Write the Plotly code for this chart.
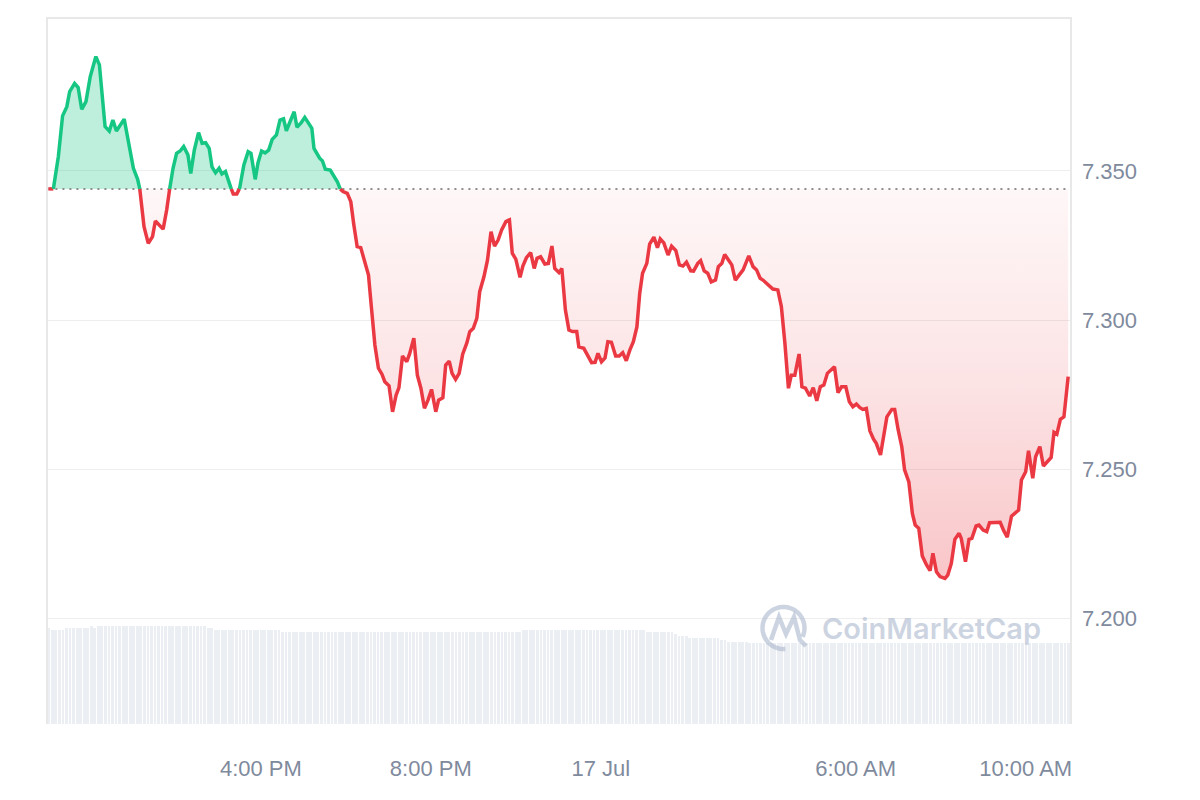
import math
import pandas as pd
import plotly.graph_objects as go

# ---------------- data ----------------
START = pd.Timestamp("2024-07-16 10:58")

# minutes after START for each price reading
minutes = [
    2, 9, 16, 22, 28, 32, 39, 44, 49, 55,
    61, 69, 74, 82, 88, 93, 98, 109, 115, 122,
    128, 131, 137, 143, 149, 153, 160, 164, 169, 174,
    178, 183, 188, 193, 199, 203, 208, 214, 219, 224,
    229, 233, 238, 243, 247, 252, 258, 263, 268, 272,
    278, 284, 288, 294, 298, 303, 308, 313, 318, 324,
    329, 334, 338, 344, 349, 353, 359, 364, 369, 374,
    377, 381, 385, 389, 393, 400, 404, 410, 414, 418,
    424, 429, 433, 438, 443, 449, 454, 458, 463, 468,
    473, 477, 483, 488, 493, 497, 502, 508, 512, 518,
    523, 528, 533, 538, 543, 549, 553, 559, 563, 568,
    572, 577, 582, 587, 593, 597, 602, 607, 611, 617,
    622, 627, 632, 637, 642, 648, 653, 657, 662, 668,
    672, 677, 683, 688, 692, 697, 703, 708, 713, 717,
    723, 727, 732, 737, 742, 748, 751, 758, 763, 769,
    774, 778, 783, 788, 792, 797, 803, 808, 813, 818,
    823, 828, 833, 837, 841, 847, 851, 857, 862, 866,
    871, 877, 882, 888, 893, 898, 903, 909, 913, 919,
    923, 928, 933, 938, 944, 948, 953, 957, 963, 967,
    972, 977, 983, 991, 997, 1002, 1007, 1011, 1018, 1025,
    1032, 1037, 1042, 1047, 1051, 1056, 1062, 1066, 1071, 1077,
    1082, 1087, 1092, 1097, 1102, 1108, 1112, 1117, 1122, 1128,
    1133, 1138, 1143, 1148, 1152, 1157, 1162, 1167, 1171, 1177,
    1182, 1186, 1193, 1197, 1202, 1207, 1211, 1217, 1222, 1226,
    1231, 1236, 1242, 1247, 1251, 1256, 1261, 1268, 1272, 1277,
    1282, 1288, 1291, 1297, 1302, 1306, 1312, 1316, 1322, 1327,
    1331, 1336, 1346, 1351, 1356, 1362, 1367, 1372, 1376, 1382,
    1386, 1392, 1396, 1402, 1407, 1412, 1418, 1422, 1426, 1431,
    1436, 1442,
]

prices = [
    7.3440, 7.3440, 7.3548, 7.3685, 7.3716, 7.3766, 7.3794, 7.3780, 7.3707, 7.3733,
    7.3816, 7.3884, 7.3856, 7.3649, 7.3634, 7.3671, 7.3634, 7.3674, 7.3593, 7.3509,
    7.3472, 7.3440, 7.3313, 7.3257, 7.3280, 7.3332, 7.3313, 7.3305, 7.3369, 7.3453,
    7.3509, 7.3559, 7.3567, 7.3582, 7.3554, 7.3492, 7.3570, 7.3629, 7.3593, 7.3595,
    7.3576, 7.3514, 7.3494, 7.3509, 7.3490, 7.3498, 7.3453, 7.3423, 7.3423, 7.3442,
    7.3520, 7.3565, 7.3559, 7.3472, 7.3528, 7.3567, 7.3561, 7.3570, 7.3606, 7.3621,
    7.3671, 7.3675, 7.3635, 7.3671, 7.3699, 7.3647, 7.3662, 7.3680, 7.3660, 7.3643,
    7.3576, 7.3559, 7.3543, 7.3534, 7.3506, 7.3503, 7.3489, 7.3464, 7.3440, 7.3431,
    7.3425, 7.3397, 7.3324, 7.3246, 7.3243, 7.3190, 7.3151, 7.3045, 7.2916, 7.2838,
    7.2818, 7.2793, 7.2779, 7.2692, 7.2748, 7.2773, 7.2879, 7.2860, 7.2886, 7.2939,
    7.2815, 7.2771, 7.2704, 7.2731, 7.2767, 7.2692, 7.2731, 7.2739, 7.2849, 7.2862,
    7.2821, 7.2801, 7.2821, 7.2885, 7.2924, 7.2961, 7.2972, 7.3006, 7.3095, 7.3145,
    7.3201, 7.3296, 7.3248, 7.3268, 7.3302, 7.3330, 7.3336, 7.3224, 7.3204, 7.3143,
    7.3181, 7.3209, 7.3226, 7.3173, 7.3207, 7.3212, 7.3188, 7.3190, 7.3248, 7.3173,
    7.3159, 7.3173, 7.3034, 7.2966, 7.2961, 7.2961, 7.2910, 7.2905, 7.2883, 7.2857,
    7.2858, 7.2888, 7.2860, 7.2873, 7.2927, 7.2925, 7.2879, 7.2879, 7.2890, 7.2863,
    7.2899, 7.2927, 7.2977, 7.3090, 7.3157, 7.3190, 7.3255, 7.3278, 7.3243, 7.3272,
    7.3259, 7.3218, 7.3248, 7.3233, 7.3185, 7.3181, 7.3194, 7.3165, 7.3164, 7.3190,
    7.3199, 7.3165, 7.3157, 7.3128, 7.3134, 7.3179, 7.3190, 7.3220, 7.3199, 7.3185,
    7.3134, 7.3149, 7.3168, 7.3215, 7.3179, 7.3168, 7.3140, 7.3134, 7.3117, 7.3104,
    7.3101, 7.3045, 7.2922, 7.2771, 7.2815, 7.2815, 7.2886, 7.2776, 7.2771, 7.2745,
    7.2773, 7.2729, 7.2776, 7.2782, 7.2821, 7.2832, 7.2843, 7.2756, 7.2776, 7.2776,
    7.2726, 7.2709, 7.2718, 7.2706, 7.2700, 7.2703, 7.2628, 7.2601, 7.2586, 7.2547,
    7.2614, 7.2675, 7.2700, 7.2700, 7.2631, 7.2575, 7.2497, 7.2457, 7.2351, 7.2312,
    7.2301, 7.2208, 7.2178, 7.2159, 7.2217, 7.2155, 7.2139, 7.2133, 7.2144, 7.2183,
    7.2264, 7.2284, 7.2267, 7.2189, 7.2264, 7.2267, 7.2309, 7.2312, 7.2295, 7.2290,
    7.2320, 7.2321, 7.2321, 7.2293, 7.2271, 7.2342, 7.2353, 7.2362, 7.2463, 7.2491,
    7.2561, 7.2469, 7.2541, 7.2575, 7.2510, 7.2522, 7.2539, 7.2623, 7.2617, 7.2667,
    7.2675, 7.2810,
]

# 5-minute volume bars (24h rolling volume, millions USD), run-length encoded
vol_counts = [1, 4, 7, 1, 1, 31, 2, 19, 68, 35, 8, 1, 3, 9, 2, 6, 51, 40]
vol_levels = [4.80, 4.685, 4.80, 4.90, 4.80, 4.90, 4.80, 4.685, 4.585, 4.685,
              4.585, 4.485, 4.385, 4.285, 4.185, 4.10, 4.035, 4.065]

tick_times = ["2024-07-16 16:00", "2024-07-16 20:00", "2024-07-17 00:00",
              "2024-07-17 06:00", "2024-07-17 10:00"]
tick_labels = ["4:00 PM", "8:00 PM", "17 Jul", "6:00 AM", "10:00 AM"]
price_ticks = [7.200, 7.250, 7.300, 7.350]

assert len(minutes) == len(prices)

# ---------------- styling ----------------
GREEN = "#16c784"
RED = "#ea3943"
TXT = "#808a9d"
FONT = "Liberation Sans, Arial, sans-serif"
WM = "rgba(172,184,205,0.6)"


def to_time(m):
    return None if m is None else START + pd.Timedelta(minutes=m)


base = prices[0]

# insert crossing points with the reference line (for two-colour rendering)
m_all = [minutes[0]]
p_all = [prices[0]]
for i in range(len(prices) - 1):
    m0, p0, m1, p1 = minutes[i], prices[i], minutes[i + 1], prices[i + 1]
    if (p0 - base) * (p1 - base) < 0:
        mc = m0 + (base - p0) / (p1 - p0) * (m1 - m0)
        m_all.append(mc)
        p_all.append(base)
    m_all.append(m1)
    p_all.append(p1)

runs = {"g": ([], []), "r": ([], [])}
cur = None
for j in range(len(m_all) - 1):
    p0, p1 = p_all[j], p_all[j + 1]
    c = "g" if (min(p0, p1) >= base and max(p0, p1) > base) else "r"
    X, Y = runs[c]
    if c != cur:
        if X:
            X.append(None)
            Y.append(None)
        X.append(m_all[j])
        Y.append(p0)
    X.append(m_all[j + 1])
    Y.append(p1)
    cur = c

t_all = [to_time(m) for m in m_all]
up = [max(p, base) for p in p_all]
dn = [min(p, base) for p in p_all]

# volume bars
vol = []
for n, v in zip(vol_counts, vol_levels):
    vol += [v] * n
bar_t = [START + pd.Timedelta(minutes=2.5 + 5 * i) for i in range(len(vol))]

fig = go.Figure()

fig.add_trace(go.Bar(
    x=bar_t, y=vol, yaxis="y", marker=dict(color="#ebeef2", line=dict(width=0)),
    width=5 * 60 * 1000 * 0.8, hoverinfo="skip", showlegend=False,
))

# green fill
fig.add_trace(go.Scatter(x=t_all, y=[base] * len(t_all), yaxis="y2", mode="lines",
                         line=dict(width=0), hoverinfo="skip", showlegend=False))
fig.add_trace(go.Scatter(x=t_all, y=up, yaxis="y2", mode="lines", fill="tonexty",
                         fillcolor="rgba(22,199,132,0.28)", line=dict(width=0),
                         hoverinfo="skip", showlegend=False))
# red fill (gradient)
fig.add_trace(go.Scatter(x=t_all, y=[base] * len(t_all), yaxis="y2", mode="lines",
                         line=dict(width=0), hoverinfo="skip", showlegend=False))
fig.add_trace(go.Scatter(
    x=t_all, y=dn, yaxis="y2", mode="lines", fill="tonexty", line=dict(width=0),
    fillgradient=dict(type="vertical",
                      colorscale=[[0, "rgba(234,57,67,0.29)"],
                                  [0.5, "rgba(234,57,67,0.14)"],
                                  [1, "rgba(234,57,67,0.04)"]],
                      start=min(prices), stop=base),
    hoverinfo="skip", showlegend=False))

# dotted reference line
fig.add_trace(go.Scatter(x=[to_time(minutes[0]), to_time(minutes[-1])], y=[base, base],
                         yaxis="y2", mode="lines",
                         line=dict(color="#8e8e8e", width=2, dash="2px,5px"),
                         hoverinfo="skip", showlegend=False))

# price lines
gx, gy = runs["g"]
rx, ry = runs["r"]
fig.add_trace(go.Scatter(x=[to_time(m) for m in rx], y=ry, yaxis="y2", mode="lines",
                         line=dict(color=RED, width=3.5), connectgaps=False,
                         showlegend=False))
fig.add_trace(go.Scatter(x=[to_time(m) for m in gx], y=gy, yaxis="y2", mode="lines",
                         line=dict(color=GREEN, width=3.5), connectgaps=False,
                         showlegend=False))

# ---------------- layout ----------------
# page body has an 8px margin; target plot area on screen is x 47..1071, y 18..724
OFF = 8
PX0, PX1, PY0, PY1 = 47, 1071, 18, 724
W, H = 1200, 800
L, T = PX0 - OFF, PY0 - OFF
R, B = W - (PX1 - OFF), H - (PY1 - OFF)
pw, ph = PX1 - PX0, PY1 - PY0


def pp(x, y):
    return (x - PX0) / pw, (PY1 - y) / ph


frame = "M0,0 L0,1 L1,1 L1,0"

# CoinMarketCap logo approximation
cx, cy, rr = 783.5, 628, 21
pts = []
for k in range(0, 61):
    a = math.radians(-25 + k * (300 / 60))
    pts.append(pp(cx + rr * math.cos(a), cy - rr * math.sin(a)))
arc = "M" + " L".join(f"{x:.5f},{y:.5f}" for x, y in pts)
mpts = [(771, 640), (779, 617), (786, 634), (794, 617), (800, 640), (806, 646)]
mpath = "M" + " L".join(f"{x:.5f},{y:.5f}" for x, y in (pp(a, b) for a, b in mpts))

shapes = [
    dict(type="path", xref="paper", yref="paper", path=frame,
         line=dict(color="#e8e8e8", width=2), layer="above"),
    dict(type="path", xref="paper", yref="paper", path=arc,
         line=dict(color=WM, width=4.5), layer="above"),
    dict(type="path", xref="paper", yref="paper", path=mpath,
         line=dict(color=WM, width=4.5), layer="above"),
]

tx, ty = pp(931, 628)

fig.update_layout(
    width=W, height=H,
    margin=dict(l=L, r=R, t=T, b=B, pad=0),
    paper_bgcolor="white", plot_bgcolor="white",
    showlegend=False,
    xaxis=dict(
        type="date",
        range=[START, START + pd.Timedelta(minutes=1446)],
        tickvals=[pd.Timestamp(t) for t in tick_times],
        ticktext=tick_labels,
        showgrid=False, zeroline=False, showline=False, ticks="",
        ticklabelstandoff=29,
        tickfont=dict(family=FONT, size=22, color=TXT),
    ),
    yaxis=dict(range=[0, 35.3], visible=False, showgrid=False, fixedrange=True),
    yaxis2=dict(
        overlaying="y", side="right",
        range=[7.16443, 7.40134],
        tickvals=price_ticks, tickformat=".3f",
        showgrid=True, gridcolor="#eeeeee", gridwidth=1,
        zeroline=False, showline=False, ticks="",
        ticklabelstandoff=10,
        tickfont=dict(family=FONT, size=22, color=TXT),
    ),
    bargap=0,
    shapes=shapes,
    annotations=[dict(
        x=tx, y=ty, xref="paper", yref="paper", showarrow=False,
        text="CoinMarketCap",
        font=dict(family="Inter, sans-serif", size=29, color=WM, weight=600),
        xanchor="center", yanchor="middle",
    )],
)

fig.write_html("out.html")
